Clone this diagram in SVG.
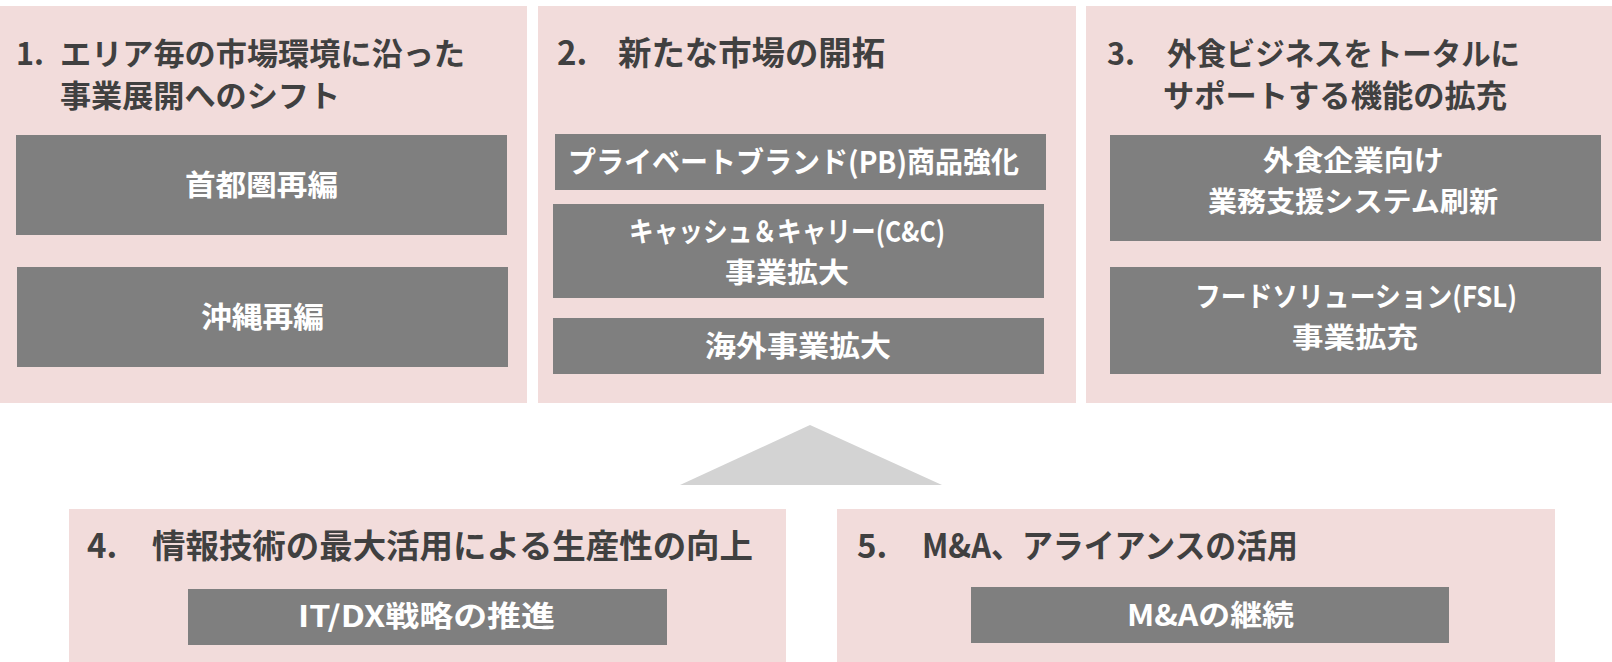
<svg xmlns="http://www.w3.org/2000/svg" width="1612" height="662" viewBox="0 0 1612 662">
<style>
.panel{fill:#F2DCDB}
.box{fill:#7F7F7F}
.t{font-family:"Noto Sans CJK JP","Noto Sans",sans-serif;font-weight:700;fill:#404040}
.t1{font-size:30.5px}
.t2{font-size:33px}
.lb{font-family:"Noto Sans CJK JP","Noto Sans",sans-serif;font-weight:700;fill:#FFFFFF;font-size:29px}
.lb2{font-size:28px}
.tri{fill:#D3D3D3}
</style>
<rect x="0" y="0" width="1612" height="662" fill="#FFFFFF"/>

<g id="panel1">
<rect class="panel" x="0" y="6" width="527" height="397"/>
<text class="t t1" y="65"><tspan x="16">1. </tspan><tspan x="60" textLength="405" lengthAdjust="spacingAndGlyphs">エリア毎の市場環境に沿った</tspan></text>
<text class="t t1" x="60" y="107" textLength="280" lengthAdjust="spacingAndGlyphs">事業展開へのシフト</text>
<g id="node-shutoken">
<rect class="box" x="16" y="135" width="491" height="100"/>
<text class="lb" x="185" y="196" textLength="153" lengthAdjust="spacingAndGlyphs">首都圏再編</text>
</g>
<g id="node-okinawa">
<rect class="box" x="17" y="267" width="491" height="100"/>
<text class="lb" x="201" y="328" textLength="123" lengthAdjust="spacingAndGlyphs">沖縄再編</text>
</g>
</g>

<g id="panel2">
<rect class="panel" x="538" y="6" width="538" height="397"/>
<text class="t t2" y="65"><tspan x="557">2. </tspan><tspan x="618" textLength="267" lengthAdjust="spacingAndGlyphs">新たな市場の開拓</tspan></text>
<g id="node-pb">
<rect class="box" x="555" y="134" width="491" height="56"/>
<text class="lb" x="568" y="173" textLength="451" lengthAdjust="spacingAndGlyphs">プライベートブランド(PB)商品強化</text>
</g>
<g id="node-cc">
<rect class="box" x="553" y="204" width="491" height="94"/>
<text class="lb lb2" x="629" y="241.5" textLength="316" lengthAdjust="spacingAndGlyphs">キャッシュ＆キャリー(C&amp;C)</text>
<text class="lb lb2" x="725" y="282.5" textLength="124" lengthAdjust="spacingAndGlyphs">事業拡大</text>
</g>
<g id="node-overseas">
<rect class="box" x="553" y="318" width="491" height="56"/>
<text class="lb" x="705" y="357" textLength="186" lengthAdjust="spacingAndGlyphs">海外事業拡大</text>
</g>
</g>

<g id="panel3">
<rect class="panel" x="1086" y="6" width="526" height="397"/>
<text class="t t1" y="65"><tspan x="1107">3. </tspan><tspan x="1167" textLength="353" lengthAdjust="spacingAndGlyphs">外食ビジネスをトータルに</tspan></text>
<text class="t t1" x="1163" y="107" textLength="344" lengthAdjust="spacingAndGlyphs">サポートする機能の拡充</text>
<g id="node-system">
<rect class="box" x="1110" y="135" width="491" height="106"/>
<text class="lb lb2" x="1263" y="170.5" textLength="181" lengthAdjust="spacingAndGlyphs">外食企業向け</text>
<text class="lb lb2" x="1208" y="211.5" textLength="290" lengthAdjust="spacingAndGlyphs">業務支援システム刷新</text>
</g>
<g id="node-fsl">
<rect class="box" x="1110" y="267" width="491" height="107"/>
<text class="lb lb2" x="1195" y="306.5" textLength="322" lengthAdjust="spacingAndGlyphs">フードソリューション(FSL)</text>
<text class="lb lb2" x="1292" y="347.5" textLength="126" lengthAdjust="spacingAndGlyphs">事業拡充</text>
</g>
</g>

<g id="connectors">
<polygon class="tri" points="810,425 942,485 680,485"/>
</g>

<g id="panel4">
<rect class="panel" x="69" y="509" width="717" height="153"/>
<text class="t t2" y="558"><tspan x="87">4. </tspan><tspan x="152" textLength="601" lengthAdjust="spacingAndGlyphs">情報技術の最大活用による生産性の向上</tspan></text>
<g id="node-itdx">
<rect class="box" x="188" y="589" width="479" height="56"/>
<text class="lb" x="298" y="627" textLength="257" lengthAdjust="spacingAndGlyphs">IT/DX戦略の推進</text>
</g>
</g>

<g id="panel5">
<rect class="panel" x="837" y="509" width="718" height="153"/>
<text class="t t2" y="558"><tspan x="857">5. </tspan><tspan x="922" textLength="376" lengthAdjust="spacingAndGlyphs">M&amp;A、アライアンスの活用</tspan></text>
<g id="node-ma">
<rect class="box" x="971" y="587" width="478" height="56"/>
<text class="lb" x="1127" y="626" textLength="167" lengthAdjust="spacingAndGlyphs">M&amp;Aの継続</text>
</g>
</g>
</svg>
